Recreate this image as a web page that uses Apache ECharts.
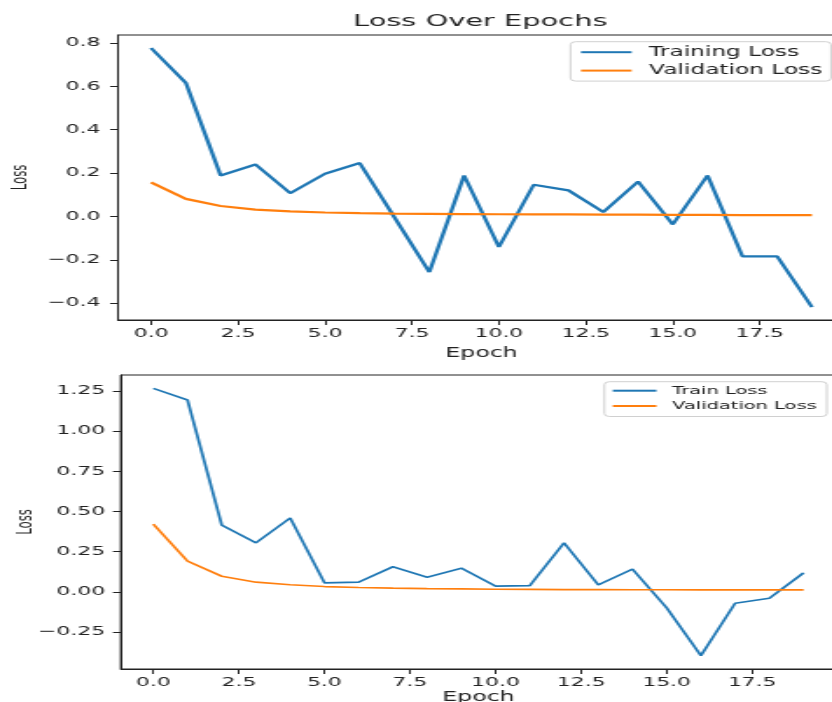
<!DOCTYPE html>
<html>
<head>
<meta charset="utf-8">
<script src="https://cdn.jsdelivr.net/npm/echarts@6/dist/echarts.min.js"></script>
<style>
  html, body { margin: 0; padding: 0; background: #fff; overflow: hidden; }
  /* the reference picture is stretched sideways, so draw narrow and widen it */
  #main { width: 476px; height: 702px; transform: scaleX(1.748); transform-origin: 0 0; }
</style>
</head>
<body>
<div id="main"></div>
<script>
// epochs shared by both panels
const epochs = [0, 1, 2, 3, 4, 5, 6, 7, 8, 9, 10, 11, 12, 13, 14, 15, 16, 17, 18, 19];

// top panel
const trainingLoss = [0.777, 0.616, 0.189, 0.240, 0.107, 0.197, 0.246, -0.005, -0.257, 0.189,
    -0.141, 0.146, 0.120, 0.020, 0.161, -0.037, 0.189, -0.184, -0.184, -0.418];
const validationLossTop = [0.157, 0.081, 0.048, 0.031, 0.023, 0.018, 0.015, 0.013, 0.012, 0.011,
    0.010, 0.009, 0.009, 0.008, 0.008, 0.007, 0.007, 0.006, 0.006, 0.006];

// bottom panel
const trainLoss = [1.266, 1.193, 0.415, 0.305, 0.459, 0.056, 0.060, 0.156, 0.091, 0.147,
    0.035, 0.039, 0.305, 0.043, 0.141, -0.100, -0.397, -0.071, -0.040, 0.118];
const validationLossBottom = [0.421, 0.191, 0.097, 0.060, 0.044, 0.033, 0.027, 0.023, 0.020, 0.018,
    0.016, 0.015, 0.014, 0.014, 0.013, 0.013, 0.012, 0.012, 0.012, 0.012];

// tick labels
const xTicks = [0, 2.5, 5, 7.5, 10, 12.5, 15, 17.5];
const yTicksTop = [-0.4, -0.2, 0, 0.2, 0.4, 0.6, 0.8];
const yTicksBottom = [-0.25, 0, 0.25, 0.5, 0.75, 1.0, 1.25];

const FONT = 'DejaVu Sans';
const blue = '#1f77b4';
const orange = '#ff7f0e';

function pairs(ys) {
    return epochs.map((e, i) => [e, ys[i]]);
}

// matplotlib style 5% margins
function limits(arrs) {
    const all = [].concat(...arrs);
    const lo = Math.min(...all), hi = Math.max(...all);
    const pad = (hi - lo) * 0.05;
    return [lo - pad, hi + pad];
}

function fmt(digits) {
    return v => (v < 0 ? '\u2212' : '') + Math.abs(v).toFixed(digits);
}

const xLim = limits([epochs]);
const yLimTop = limits([trainingLoss, validationLossTop]);
const yLimBottom = limits([trainLoss, validationLossBottom]);

function xAxis(gridIndex, nameGap) {
    return {
        type: 'value',
        gridIndex: gridIndex,
        min: xLim[0],
        max: xLim[1],
        name: 'Epoch',
        nameLocation: 'middle',
        nameGap: nameGap,
        nameMoveOverlap: false,
        nameTextStyle: { fontFamily: FONT, fontSize: 13.5, color: '#222' },
        axisLine: { show: true, onZero: false, lineStyle: { color: '#222', width: 1 } },
        axisTick: { show: true, length: 5, customValues: xTicks, lineStyle: { color: '#222' } },
        axisLabel: {
            customValues: xTicks, formatter: fmt(1), margin: 7,
            fontFamily: FONT, fontSize: 12.5, color: '#222'
        },
        splitLine: { show: false }
    };
}

function yAxis(gridIndex, lim, ticks, digits, nameGap, margin) {
    return {
        type: 'value',
        gridIndex: gridIndex,
        min: lim[0],
        max: lim[1],
        name: 'Loss',
        nameLocation: 'middle',
        nameGap: nameGap,
        nameRotate: 90,
        nameMoveOverlap: false,
        nameTextStyle: { fontFamily: 'DejaVu Sans Condensed', fontSize: 13, color: '#222' },
        axisLine: { show: true, onZero: false, lineStyle: { color: '#222', width: 1 } },
        axisTick: { show: true, length: 4.5, customValues: ticks, lineStyle: { color: '#222' } },
        axisLabel: {
            customValues: ticks, formatter: fmt(digits), margin: margin,
            fontFamily: FONT, fontSize: 12.5, color: '#222'
        },
        splitLine: { show: false }
    };
}

const chart = echarts.init(document.getElementById('main'));
chart.setOption({
    animation: false,
    backgroundColor: '#fff',
    title: {
        text: 'Loss Over Epochs',
        left: 202,
        top: 13,
        padding: 0,
        textStyle: { fontFamily: FONT, fontSize: 16.5, fontWeight: 'normal', color: '#222' }
    },
    grid: [
        { left: 67.5, right: -7.4, top: 35, bottom: 382, outerBoundsMode: 'none',
          show: true, borderColor: '#222', borderWidth: 1 },
        { left: 69.1, right: -2.3, top: 375, bottom: 33, outerBoundsMode: 'none',
          show: true, borderColor: '#222', borderWidth: 1 }
    ],
    legend: [
        {
            data: ['Training Loss', 'Validation Loss'],
            orient: 'vertical',
            right: 0.6,
            top: 41.7,
            padding: [4, 5, 4, 5],
            itemWidth: 29,
            itemHeight: 14,
            itemGap: 5.4,
            itemStyle: { opacity: 0 },
            borderColor: '#d0d0d0',
            borderWidth: 1,
            borderRadius: 3,
            backgroundColor: 'rgba(255,255,255,0.8)',
            textStyle: { fontFamily: FONT, fontSize: 13.3, color: '#222', padding: [0, 0, 0, 5] }
        },
        {
            data: ['Train Loss', 'Validation Loss'],
            orient: 'vertical',
            right: 3,
            top: 381.7,
            padding: [3.5, 5.8, 5, 3.8],
            itemWidth: 25,
            itemHeight: 11,
            itemGap: 4.3,
            itemStyle: { opacity: 0 },
            borderColor: '#d0d0d0',
            borderWidth: 1,
            borderRadius: 3,
            backgroundColor: 'rgba(255,255,255,0.8)',
            textStyle: { fontFamily: FONT, fontSize: 11.1, color: '#222', padding: [0, 0, 0, 4] }
        }
    ],
    xAxis: [xAxis(0, 26), xAxis(1, 21)],
    yAxis: [
        yAxis(0, yLimTop, yTicksTop, 1, 49, 10),
        yAxis(1, yLimBottom, yTicksBottom, 2, 48, 9)
    ],
    series: [
        {
            name: 'Training Loss', type: 'line', xAxisIndex: 0, yAxisIndex: 0,
            data: pairs(trainingLoss), symbol: 'none', color: blue,
            lineStyle: { color: blue, width: 2.3 }
        },
        {
            name: 'Validation Loss', type: 'line', xAxisIndex: 0, yAxisIndex: 0,
            data: pairs(validationLossTop), symbol: 'none', color: orange,
            lineStyle: { color: orange, width: 2.2 }
        },
        {
            name: 'Train Loss', type: 'line', xAxisIndex: 1, yAxisIndex: 1,
            data: pairs(trainLoss), symbol: 'none', color: blue,
            lineStyle: { color: blue, width: 1.7 }
        },
        {
            name: 'Validation Loss', type: 'line', xAxisIndex: 1, yAxisIndex: 1,
            data: pairs(validationLossBottom), symbol: 'none', color: orange,
            lineStyle: { color: orange, width: 1.7 }
        }
    ]
});
</script>
</body>
</html>
